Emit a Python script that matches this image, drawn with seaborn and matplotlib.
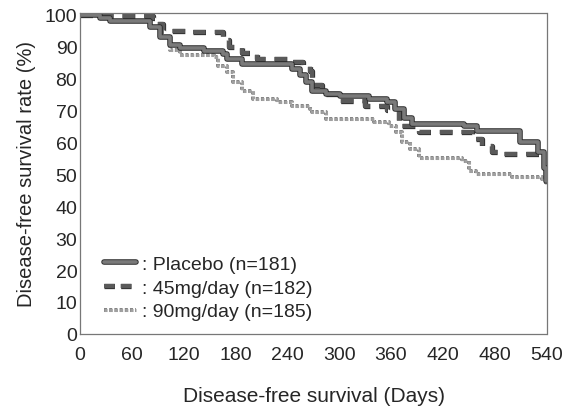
import matplotlib
matplotlib.use("Agg")
import matplotlib.pyplot as plt
import matplotlib.patheffects as pe
from matplotlib.ticker import MultipleLocator
from matplotlib.lines import Line2D
import seaborn as sns
import pandas as pd

sns.set_style("white")
plt.rcParams['font.family'] = ['Liberation Sans', 'DejaVu Sans']

placebo_days = [0, 23, 35, 81, 92, 104, 116, 143, 165, 170, 188, 246, 255, 262, 269, 285, 301,
                335, 355, 365, 375, 385, 445, 460, 510, 530, 537, 540]
placebo_vals = [100, 99, 98, 96, 93, 90.5, 89.5, 88.5, 87.8, 86.2, 84.6, 83, 81, 79, 76, 75, 74.6,
                73.7, 72.7, 70.5, 67.5, 65.8, 65, 63.6, 60.2, 57, 52, 48]

mg45_days = [0, 25, 85, 88, 96, 130, 165, 173, 188, 205, 243, 258, 266, 269, 280, 300, 330,
             355, 370, 393, 454, 466, 477, 486, 540]
mg45_vals = [100, 99.5, 99, 97, 95, 94.5, 92, 90, 88, 86, 85, 84, 82.4, 78, 75, 73, 71.5,
             70, 65.2, 63.3, 61, 59, 57, 56.4, 56.4]

mg90_days = [0, 23, 35, 81, 92, 104, 116, 155, 160, 170, 177, 188, 200, 228, 246, 266, 269, 285,
             340, 358, 366, 373, 382, 393, 443, 451, 459, 500, 535, 540]
mg90_vals = [100, 99, 98, 96, 93, 89, 87.3, 86.8, 84, 82, 79, 76, 73.7, 72.7, 71.5, 70.5, 69.6, 67.4,
             66.5, 65.2, 63.3, 60.2, 58, 55, 54, 51.1, 50.2, 49.2, 48.5, 47]

labels = [": Placebo (n=181)", ": 45mg/day (n=182)", ": 90mg/day (n=185)"]
xticks = [0, 60, 120, 180, 240, 300, 360, 420, 480, 540]
yticks = [0, 10, 20, 30, 40, 50, 60, 70, 80, 90, 100]

fig = plt.figure(figsize=(5.64, 4.14), dpi=100)
ax = fig.add_axes([0.142, 0.191, 0.828, 0.776])

df_p = pd.DataFrame({"day": placebo_days, "rate": placebo_vals})
df_45 = pd.DataFrame({"day": mg45_days, "rate": mg45_vals})
df_90 = pd.DataFrame({"day": mg90_days, "rate": mg90_vals})

sty_p = dict(color="#7a7a7a", linewidth=2.6,
             path_effects=[pe.Stroke(linewidth=4.0, foreground="#2e2e2e"), pe.Normal()])
sty_45 = dict(color="#5a5a5a", linewidth=3.0, linestyle=(0, (3, 2.2)),
              path_effects=[pe.Stroke(linewidth=3.8, foreground="#333333"), pe.Normal()])
sty_90 = dict(color="#a0a0a0", linewidth=2.2, linestyle=(0, (1, 0.7)),
              path_effects=[pe.Stroke(linewidth=2.8, foreground="#808080"), pe.Normal()])

sns.lineplot(data=df_90, x="day", y="rate", ax=ax, drawstyle="steps-post", estimator=None, **sty_90)
sns.lineplot(data=df_45, x="day", y="rate", ax=ax, drawstyle="steps-post", estimator=None, **sty_45)
sns.lineplot(data=df_p, x="day", y="rate", ax=ax, drawstyle="steps-post", estimator=None, **sty_p)

ax.set_xlim(0, 541)
ax.set_ylim(0, 100.6)
ax.set_xticks(xticks)
ax.set_yticks(yticks)
ax.xaxis.set_minor_locator(MultipleLocator(20))
ax.tick_params(axis="x", which="major", direction="in", length=4, width=0.8, color="#888888",
               labelsize=14, pad=9)
ax.tick_params(axis="x", which="minor", direction="in", length=2, width=0.6, color="#999999")
ax.tick_params(axis="y", which="major", length=0, labelsize=14, pad=2)
for s in ax.spines.values():
    s.set_linestyle((0, (1, 1)))
    s.set_linewidth(0.9)
    s.set_color("#777777")

ax.set_xlabel("Disease-free survival (Days)", fontsize=15, labelpad=16)
ax.set_ylabel("Disease-free survival rate (%)", fontsize=14.5, labelpad=6)

h1 = Line2D([], [], **sty_p)
h2 = Line2D([], [], **dict(sty_45, linestyle=(0, (2.5, 1.5))))
h3 = Line2D([], [], **sty_90)
ax.legend([h1, h2, h3], labels, loc="lower left", bbox_to_anchor=(0.03, 0.012), frameon=False,
          fontsize=14, handlelength=1.65, handletextpad=0.3, labelspacing=0.32, borderpad=0)

fig.savefig("out.png", dpi=100)
